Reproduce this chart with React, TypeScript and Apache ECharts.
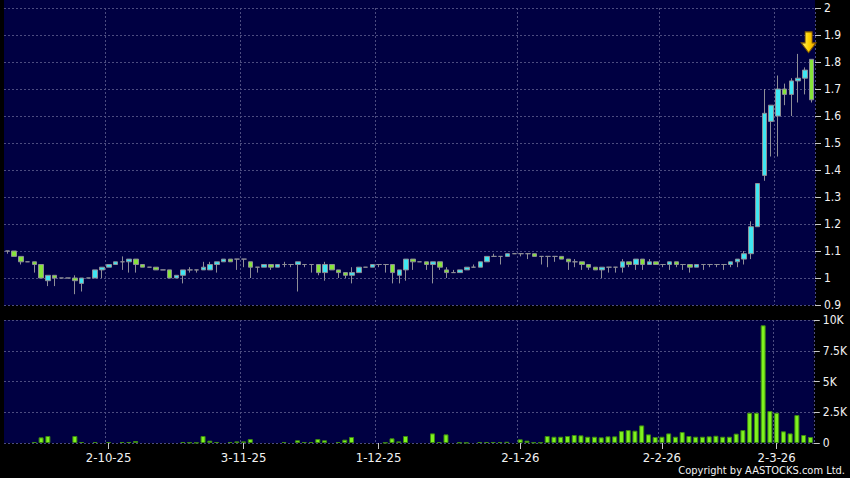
import React, { useEffect, useRef } from "react";
import * as echarts from "echarts";

// Trading days (HK) per month, Sep 2025 – Mar 2026
const sep25 = [10, 11, 12, 15, 16, 17, 18, 19, 22, 23, 24, 25, 26, 29, 30];
const oct25 = [2, 3, 6, 8, 9, 10, 13, 14, 15, 16, 17, 20, 21, 22, 23, 24, 27, 28, 30, 31];
const nov25 = [3, 4, 5, 6, 7, 10, 11, 12, 13, 14, 17, 18, 19, 20, 21, 24, 25, 26, 27, 28];
const dec25 = [1, 2, 3, 4, 5, 8, 9, 10, 11, 12, 15, 16, 17, 18, 19, 22, 23, 24, 29, 30, 31];
const jan26 = [2, 5, 6, 7, 8, 9, 12, 13, 14, 15, 16, 19, 20, 21, 22, 23, 26, 27, 28, 29, 30];
const feb26 = [2, 3, 4, 5, 6, 9, 10, 11, 12, 13, 16, 20, 23, 24, 25, 26, 27];
const mar26 = [2, 3, 4, 5, 6, 9];

const dates: string[] = [
  ...sep25.map((d) => `${d}-9-25`),
  ...oct25.map((d) => `${d}-10-25`),
  ...nov25.map((d) => `${d}-11-25`),
  ...dec25.map((d) => `${d}-12-25`),
  ...jan26.map((d) => `${d}-1-26`),
  ...feb26.map((d) => `${d}-2-26`),
  ...mar26.map((d) => `${d}-3-26`),
];

const opens = [
  1.10, 1.10, 1.08, 1.06, 1.06, 1.05, 0.99, 1.01, 1.00, 1.00,
  1.00, 0.98, 1.00, 1.00, 1.03, 1.04, 1.05, 1.06, 1.06, 1.07,
  1.05, 1.04, 1.04, 1.03, 1.03, 1.00, 1.01, 1.03, 1.03, 1.03,
  1.03, 1.05, 1.06, 1.07, 1.07, 1.07, 1.06, 1.04, 1.04, 1.05,
  1.04, 1.05, 1.05, 1.05, 1.05, 1.05, 1.05, 1.02, 1.05, 1.03,
  1.02, 1.01, 1.02, 1.04, 1.04, 1.05, 1.05, 1.05, 1.01, 1.03,
  1.07, 1.06, 1.06, 1.05, 1.06, 1.03, 1.02, 1.02, 1.03, 1.04,
  1.04, 1.06, 1.08, 1.08, 1.08, 1.09, 1.09, 1.09, 1.09, 1.08,
  1.08, 1.08, 1.08, 1.07, 1.06, 1.06, 1.05, 1.04, 1.03, 1.04,
  1.04, 1.04, 1.06, 1.05, 1.07, 1.05, 1.06, 1.05, 1.05, 1.06,
  1.05, 1.05, 1.04, 1.05, 1.05, 1.05, 1.05, 1.05, 1.06, 1.07,
  1.09, 1.19, 1.38, 1.58, 1.60, 1.70, 1.68, 1.73, 1.74, 1.81,
];
const closes = [
  1.10, 1.08, 1.06, 1.06, 1.05, 1.00, 1.01, 1.00, 1.00, 1.00,
  0.99, 1.00, 1.00, 1.03, 1.04, 1.05, 1.06, 1.06, 1.07, 1.05,
  1.04, 1.04, 1.03, 1.03, 1.00, 1.01, 1.03, 1.03, 1.03, 1.04,
  1.05, 1.06, 1.07, 1.06, 1.07, 1.07, 1.04, 1.04, 1.05, 1.04,
  1.05, 1.05, 1.05, 1.06, 1.05, 1.05, 1.02, 1.05, 1.03, 1.02,
  1.01, 1.02, 1.04, 1.04, 1.05, 1.05, 1.05, 1.02, 1.03, 1.07,
  1.06, 1.06, 1.05, 1.06, 1.04, 1.02, 1.02, 1.03, 1.04, 1.04,
  1.06, 1.08, 1.08, 1.08, 1.09, 1.09, 1.09, 1.09, 1.08, 1.08,
  1.08, 1.08, 1.07, 1.06, 1.06, 1.05, 1.04, 1.03, 1.04, 1.04,
  1.04, 1.06, 1.05, 1.07, 1.05, 1.06, 1.05, 1.05, 1.06, 1.05,
  1.05, 1.04, 1.05, 1.05, 1.05, 1.05, 1.05, 1.06, 1.07, 1.09,
  1.19, 1.35, 1.61, 1.64, 1.70, 1.68, 1.73, 1.74, 1.77, 1.66,
];
const lows = [
  1.09, 1.08, 1.05, 1.06, 1.02, 1.00, 0.97, 0.97, 1.00, 1.00,
  0.94, 0.95, 1.00, 1.00, 1.00, 1.04, 1.05, 1.03, 1.02, 1.02,
  1.04, 1.04, 1.03, 1.03, 1.00, 1.00, 0.98, 1.02, 1.02, 1.03,
  1.03, 1.02, 1.06, 1.06, 1.03, 1.04, 1.00, 1.02, 1.04, 1.03,
  1.04, 1.04, 1.04, 0.95, 1.04, 1.02, 1.01, 0.99, 1.03, 1.00,
  1.00, 0.98, 1.02, 1.04, 1.04, 1.04, 1.02, 0.98, 0.98, 0.99,
  1.03, 1.06, 1.03, 0.98, 1.03, 1.00, 1.02, 1.02, 1.03, 1.04,
  1.04, 1.06, 1.08, 1.05, 1.08, 1.09, 1.08, 1.07, 1.08, 1.05,
  1.04, 1.06, 1.07, 1.03, 1.04, 1.03, 1.03, 1.03, 1.00, 1.02,
  1.02, 1.02, 1.04, 1.03, 1.03, 1.05, 1.05, 1.04, 1.03, 1.04,
  1.03, 1.02, 1.04, 1.03, 1.04, 1.04, 1.03, 1.04, 1.04, 1.05,
  1.07, 1.19, 1.36, 1.45, 1.45, 1.64, 1.60, 1.65, 1.68, 1.65,
];
const highs = [
  1.10, 1.10, 1.08, 1.06, 1.06, 1.05, 1.01, 1.01, 1.00, 1.00,
  1.01, 1.00, 1.00, 1.03, 1.04, 1.05, 1.06, 1.08, 1.07, 1.07,
  1.05, 1.04, 1.04, 1.03, 1.03, 1.01, 1.03, 1.04, 1.03, 1.06,
  1.06, 1.06, 1.07, 1.07, 1.07, 1.07, 1.06, 1.04, 1.05, 1.05,
  1.05, 1.06, 1.05, 1.06, 1.05, 1.05, 1.05, 1.06, 1.05, 1.03,
  1.02, 1.04, 1.04, 1.04, 1.05, 1.05, 1.05, 1.05, 1.03, 1.07,
  1.07, 1.06, 1.06, 1.06, 1.06, 1.04, 1.03, 1.03, 1.04, 1.05,
  1.06, 1.08, 1.09, 1.08, 1.09, 1.09, 1.09, 1.09, 1.09, 1.08,
  1.08, 1.08, 1.08, 1.07, 1.07, 1.06, 1.05, 1.04, 1.04, 1.04,
  1.04, 1.07, 1.06, 1.07, 1.07, 1.07, 1.06, 1.05, 1.06, 1.06,
  1.05, 1.05, 1.05, 1.05, 1.05, 1.05, 1.05, 1.06, 1.07, 1.10,
  1.21, 1.35, 1.70, 1.64, 1.75, 1.72, 1.74, 1.83, 1.78, 1.81,
];
const volumes = [
  0, 0, 0, 0, 80, 460, 570, 0, 0, 0,
  570, 80, 0, 80, 0, 80, 0, 80, 80, 160,
  0, 0, 0, 0, 0, 0, 80, 50, 30, 570,
  190, 80, 0, 80, 130, 130, 320, 0, 0, 0,
  0, 80, 0, 220, 80, 80, 320, 220, 0, 80,
  270, 490, 0, 0, 0, 0, 30, 380, 130, 570,
  0, 0, 0, 780, 80, 700, 0, 50, 30, 0,
  80, 80, 80, 80, 100, 0, 300, 190, 50, 50,
  570, 510, 510, 570, 650, 620, 510, 510, 460, 540,
  540, 970, 1050, 1000, 1430, 700, 490, 510, 780, 510,
  890, 570, 510, 510, 540, 590, 510, 510, 760, 1050,
  2460, 2460, 9570, 2600, 2460, 950, 780, 2270, 650, 490,
];

const priceTicks = { min: 0.9, max: 2, step: 0.1 };
const volumeTicks = { min: 0, max: 10000, step: 2500 };
const copyright = "Copyright by AASTOCKS.com Ltd.";

const NAVY = "#000042";
const GRID = "#4c4c80";
const UP = "#3fe6f2";
const DOWN = "#86e43a";
const EDGE = "#8e8e96";
const VOL = "#7ff21e";
const VOL_EDGE = "#3d8a12";
const TEXT = "#f2f2f2";
const FONT = '"DejaVu Sans Condensed", "DejaVu Sans", sans-serif';

const monthOf = (s: string) => s.split("-").slice(1).join("-");
const monthStarts = new Set(
  dates.map((d, i) => (i > 0 && monthOf(d) !== monthOf(dates[i - 1]) ? i : -1)).filter((i) => i >= 0)
);
const isMonthStart = (i: number) => monthStarts.has(i);

const dashed = { color: GRID, type: [2, 2] as any, width: 1 };

export default function App() {
  const ref = useRef<HTMLDivElement>(null);
  useEffect(() => {
    const chart = echarts.init(ref.current!, undefined, { renderer: "svg" });
    const last = dates.length - 1;
    chart.setOption({
      animation: false,
      backgroundColor: "#000000",
      textStyle: { fontFamily: FONT },
      grid: [
        { left: 4, right: 35, top: 8, height: 297, show: true, backgroundColor: NAVY, borderWidth: 0 },
        { left: 4, right: 35, top: 320, height: 123, show: true, backgroundColor: NAVY, borderWidth: 0 },
      ],
      xAxis: [
        {
          type: "category",
          gridIndex: 0,
          data: dates,
          boundaryGap: true,
          axisLine: { show: false },
          axisTick: { show: false },
          axisLabel: { show: false },
          splitLine: { show: true, interval: (i: number) => isMonthStart(i), lineStyle: dashed },
        },
        {
          type: "category",
          gridIndex: 1,
          data: dates,
          boundaryGap: true,
          axisLine: { show: false },
          axisTick: {
            show: true,
            alignWithLabel: true,
            interval: (i: number) => isMonthStart(i),
            length: 6,
            lineStyle: { color: "#c8c8c8" },
          },
          axisLabel: {
            show: true,
            interval: (i: number) => isMonthStart(i),
            color: TEXT,
            fontSize: 13,
            fontFamily: FONT,
            margin: 8,
          },
          splitLine: { show: true, interval: (i: number) => isMonthStart(i), lineStyle: dashed },
        },
      ],
      yAxis: [
        {
          type: "value",
          gridIndex: 0,
          position: "right",
          min: priceTicks.min,
          max: priceTicks.max,
          interval: priceTicks.step,
          axisLine: { show: false },
          axisTick: { show: true, length: 6, lineStyle: { color: "#c8c8c8" } },
          axisLabel: {
            color: TEXT,
            fontSize: 12,
            fontFamily: FONT,
            margin: 9,
            formatter: (v: number) => String(Math.round(v * 10) / 10),
          },
          splitLine: { show: true, lineStyle: dashed },
        },
        {
          type: "value",
          gridIndex: 1,
          position: "right",
          min: volumeTicks.min,
          max: volumeTicks.max,
          interval: volumeTicks.step,
          axisLine: { show: false },
          axisTick: { show: true, length: 6, lineStyle: { color: "#c8c8c8" } },
          axisLabel: {
            color: TEXT,
            fontSize: 12,
            fontFamily: FONT,
            margin: 9,
            formatter: (v: number) => (v === 0 ? "0" : `${v / 1000}K`),
          },
          splitLine: { show: true, lineStyle: dashed },
        },
      ],
      series: [
        {
          type: "candlestick",
          xAxisIndex: 0,
          yAxisIndex: 0,
          barWidth: 5,
          data: dates.map((_, i) => [opens[i], closes[i], lows[i], highs[i]]),
          itemStyle: {
            color: UP,
            color0: DOWN,
            borderColor: EDGE,
            borderColor0: EDGE,
            borderColorDoji: EDGE,
            borderWidth: 1,
          },
          markPoint: {
            silent: true,
            data: [
              {
                coord: [dates[last], highs[last]],
                symbol: "path://M4,0 L11,0 L11,11 L15,11 L7.5,21 L0,11 L4,11 Z",
                symbolSize: [15, 21],
                symbolOffset: [-3, -17],
                itemStyle: {
                  color: new echarts.graphic.LinearGradient(0, 0, 1, 0, [
                    { offset: 0, color: "#fff27a" },
                    { offset: 0.5, color: "#ffd200" },
                    { offset: 1, color: "#e89a00" },
                  ]),
                  borderColor: "#7a5200",
                  borderWidth: 1,
                },
                label: { show: false },
              },
            ],
          },
        },
        {
          type: "bar",
          xAxisIndex: 1,
          yAxisIndex: 1,
          barWidth: 5,
          data: volumes.map((v) => (v === 0 ? "-" : v)),
          itemStyle: { color: VOL, borderColor: VOL_EDGE, borderWidth: 1 },
        },
      ],
      graphic: [
        {
          type: "rect",
          shape: { x: 4, y: 0, width: 811, height: 8 },
          style: { fill: NAVY },
          silent: true,
        },
        {
          type: "text",
          right: 5,
          top: 465,
          style: { text: copyright, fill: TEXT, font: `11px ${FONT}` },
        },
      ],
    });
    return () => chart.dispose();
  }, []);
  return (
    <div
      ref={ref}
      style={{ width: 850, height: 478, position: "fixed", left: 0, top: 0, background: "#000" }}
    />
  );
}
